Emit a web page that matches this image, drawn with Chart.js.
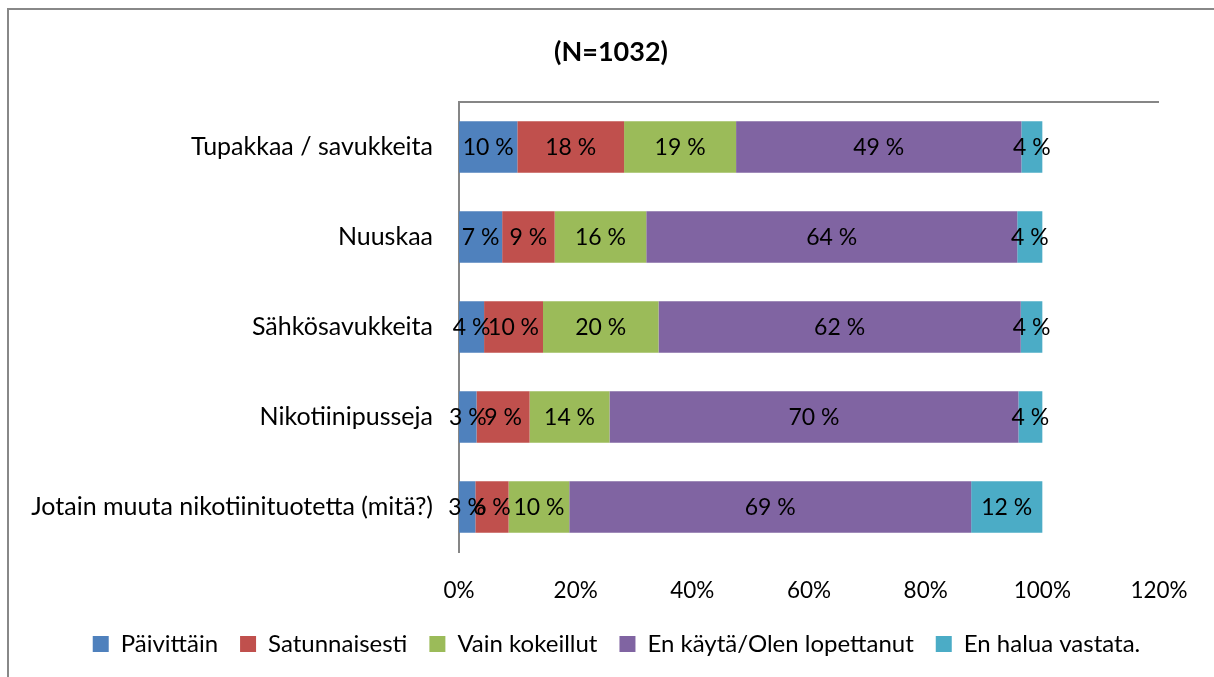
<!DOCTYPE html>
<html>
<head>
<meta charset="utf-8">
<script src="https://cdn.jsdelivr.net/npm/chart.js@4"></script>
<style>
  html, body { margin: 0; padding: 0; background: #fff; }
  #wrap { width: 1214px; height: 677px; position: relative; }
</style>
</head>
<body>
<div id="wrap"><canvas id="chart" width="1214" height="677"></canvas></div>
<script>
// Kategoriat ja sarjat (prosentteina, luettu kuvasta)
const categories = [
  'Tupakkaa / savukkeita',
  'Nuuskaa',
  'Sähkösavukkeita',
  'Nikotiinipusseja',
  'Jotain muuta nikotiinituotetta (mitä?)'
];
const seriesNames = ['Päivittäin', 'Satunnaisesti', 'Vain kokeillut', 'En käytä/Olen lopettanut', 'En halua vastata.'];
const paivittain    = [10.0, 7.4, 4.3, 3.0, 2.8];
const satunnaisesti = [18.3, 9.0, 10.1, 9.1, 5.7];
const kokeillut     = [19.2, 15.7, 19.8, 13.7, 10.4];
const enKayta       = [48.9, 63.6, 62.1, 70.1, 68.9];
const enHalua       = [3.6, 4.3, 3.7, 4.1, 12.2];
const xTicks = [0, 20, 40, 60, 80, 100, 120];
const title = '(N=1032)';

const colors = ['#4F81BD', '#C0504D', '#9BBB59', '#8064A2', '#4BACC6'];
const FONT = 'Lato, "Open Sans", sans-serif';

const seriesData = [paivittain, satunnaisesti, kokeillut, enKayta, enHalua];

// Kehys, otsikko ja yläreunan viiva
const framePlugin = {
  id: 'frame',
  afterLayout(chart) {
    // selite hieman oikealle, kuten alkuperäisessä
    if (chart.legend) {
      chart.legend.left += 37;
      chart.legend.right += 37;
    }
  },
  beforeDraw(chart) {
    const ctx = chart.ctx;
    ctx.save();
    ctx.fillStyle = '#fff';
    ctx.fillRect(0, 0, chart.width, chart.height);
    ctx.strokeStyle = '#888888';
    ctx.lineWidth = 2;
    ctx.beginPath();
    ctx.moveTo(8, chart.height);
    ctx.lineTo(8, 9);
    ctx.lineTo(chart.width, 9);
    ctx.stroke();
    ctx.fillStyle = '#000';
    ctx.font = 'bold 27px ' + FONT;
    ctx.textAlign = 'center';
    ctx.textBaseline = 'middle';
    ctx.fillText(title, 611, 52);
    ctx.restore();
  },
  afterDatasetsDraw(chart) {
    const ctx = chart.ctx;
    const area = chart.chartArea;
    ctx.save();
    ctx.strokeStyle = '#868686';
    ctx.lineWidth = 2;
    ctx.beginPath();
    ctx.moveTo(area.left, area.top);
    ctx.lineTo(area.right, area.top);
    ctx.stroke();

    // arvojen tekstit palkkien keskelle
    ctx.fillStyle = '#000';
    ctx.font = '23px ' + FONT;
    ctx.textAlign = 'center';
    ctx.textBaseline = 'middle';
    chart.data.datasets.forEach(function(ds, i) {
      const meta = chart.getDatasetMeta(i);
      meta.data.forEach(function(bar, j) {
        const v = ds.data[j];
        const cx = (bar.x + bar.base) / 2;
        ctx.fillText(Math.round(v) + ' %', cx, bar.y + 1);
      });
    });
    ctx.restore();
  }
};

new Chart(document.getElementById('chart'), {
  type: 'bar',
  data: {
    labels: categories,
    datasets: seriesData.map(function(d, i) {
      return {
        label: seriesNames[i],
        data: d,
        backgroundColor: colors[i],
        borderWidth: 0,
        barPercentage: 0.57,
        categoryPercentage: 1.0
      };
    })
  },
  options: {
    indexAxis: 'y',
    responsive: false,
    animation: false,
    layout: { padding: { top: 102, left: 0, right: 55, bottom: 11 } },
    plugins: {
      legend: {
        position: 'bottom',
        labels: {
          boxWidth: 16,
          boxHeight: 16,
          padding: 22,
          color: '#000',
          font: { family: FONT, size: 24 }
        }
      },
      tooltip: { enabled: false },
      title: { display: false }
    },
    scales: {
      x: {
        stacked: true,
        min: 0,
        max: 120,
        afterBuildTicks: function(scale) {
          scale.ticks = xTicks.map(function(v) { return { value: v }; });
        },
        afterFit: function(scale) { scale.height = 58; },
        grid: { display: false, drawTicks: false },
        border: { display: false },
        ticks: {
          padding: 25,
          color: '#000',
          font: { family: FONT, size: 22.5 },
          callback: function(v) { return v + '%'; }
        }
      },
      y: {
        stacked: true,
        afterFit: function(scale) { scale.width = 459; },
        grid: { display: false, drawTicks: false },
        border: { display: true, color: '#868686', width: 2 },
        ticks: {
          padding: 26,
          color: '#000',
          font: { family: FONT, size: 25 }
        }
      }
    }
  },
  plugins: [framePlugin]
});
</script>
</body>
</html>
